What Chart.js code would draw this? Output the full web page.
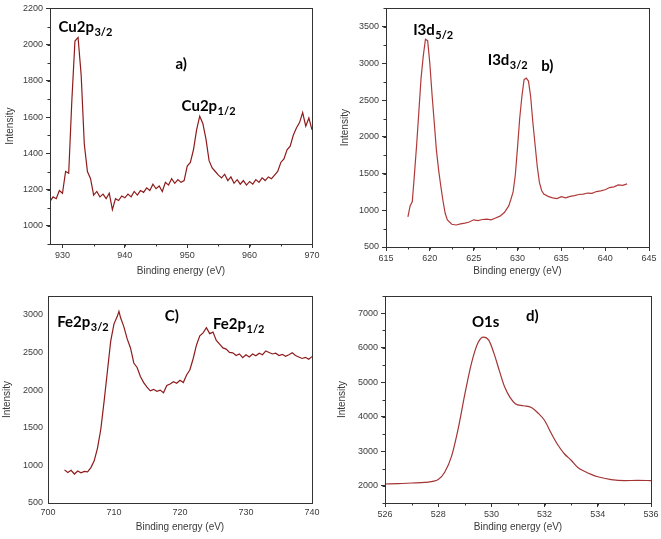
<!DOCTYPE html>
<html>
<head>
<meta charset="utf-8">
<script src="https://cdn.jsdelivr.net/npm/chart.js@4.4.1/dist/chart.umd.min.js"></script>
<style>
  body { margin: 0; background: #fff; }
  #wrap { position: relative; width: 661px; height: 539px; overflow: hidden; background: #fff; }
  canvas { position: absolute; }
</style>
</head>
<body>
<div id="wrap">
  <canvas id="cuChart" width="330" height="285" style="left:0;top:0"></canvas>
  <canvas id="iChart" width="331" height="285" style="left:330px;top:0"></canvas>
  <canvas id="feChart" width="330" height="269" style="left:0;top:270px"></canvas>
  <canvas id="oChart" width="331" height="269" style="left:330px;top:270px"></canvas>
</div>
<script>
// a) Cu 2p
const cuEnergy = [928.0, 928.5, 929.0, 929.5, 930.0, 930.5, 931.0, 931.5, 932.0, 932.5,
  933.0, 933.5, 934.0, 934.5, 935.0, 935.5, 936.0, 936.5, 937.0, 937.5,
  938.0, 938.5, 939.0, 939.5, 940.0, 940.5, 941.0, 941.5, 942.0, 942.5,
  943.0, 943.5, 944.0, 944.5, 945.0, 945.5, 946.0, 946.5, 947.0, 947.5,
  948.0, 948.5, 949.0, 949.5, 950.0, 950.5, 951.0, 951.5, 952.0, 952.5,
  953.0, 953.5, 954.0, 954.5, 955.0, 955.5, 956.0, 956.5, 957.0, 957.5,
  958.0, 958.5, 959.0, 959.5, 960.0, 960.5, 961.0, 961.5, 962.0, 962.5,
  963.0, 963.5, 964.0, 964.5, 965.0, 965.5, 966.0, 966.5, 967.0, 967.5,
  968.0, 968.5, 969.0, 969.5, 970.0];
const cuIntensity = [1135, 1160, 1150, 1195, 1180, 1300, 1290, 1690, 2020, 2040,
  1830, 1450, 1300, 1260, 1170, 1190, 1160, 1175, 1150, 1180,
  1090, 1150, 1140, 1165, 1155, 1175, 1160, 1190, 1170, 1195,
  1185, 1210, 1195, 1230, 1205, 1220, 1190, 1240, 1225, 1260,
  1235, 1255, 1240, 1250, 1330, 1350, 1420, 1530, 1605, 1565,
  1480, 1360, 1320, 1300, 1280, 1265, 1285, 1250, 1270, 1235,
  1255, 1230, 1250, 1225, 1245, 1230, 1255, 1240, 1265, 1250,
  1270, 1260, 1280, 1300, 1350, 1370, 1420, 1440, 1500, 1540,
  1570, 1625, 1550, 1595, 1530];
const cuXTicks = [930, 940, 950, 960, 970];
const cuYTicks = [1000, 1200, 1400, 1600, 1800, 2000, 2200];

// b) I 3d
const iEnergy = [617.5, 617.75, 618.0, 618.25, 618.5, 618.75, 619.0, 619.25, 619.5, 619.75,
  620.0, 620.25, 620.5, 620.75, 621.0, 621.25, 621.5, 621.75, 622.0, 622.5,
  623.0, 623.5, 624.0, 624.5, 625.0, 625.5, 626.0, 626.5, 627.0, 627.5,
  628.0, 628.5, 629.0, 629.25, 629.5, 629.75, 630.0, 630.25, 630.5, 630.75,
  631.0, 631.25, 631.5, 631.75, 632.0, 632.25, 632.5, 632.75, 633.0, 633.5,
  634.0, 634.5, 635.0, 635.5, 636.0, 636.5, 637.0, 637.5, 638.0, 638.5,
  639.0, 639.5, 640.0, 640.5, 641.0, 641.5, 642.0, 642.5];
const iIntensity = [910, 1060, 1120, 1500, 1900, 2350, 2800, 3100, 3330, 3310,
  3000, 2580, 2200, 1820, 1550, 1330, 1130, 960, 870, 810,
  800, 815, 825, 840, 870, 860, 875, 880, 870, 895,
  920, 970, 1060, 1150, 1250, 1480, 1850, 2250, 2550, 2780,
  2800, 2760, 2550, 2200, 1900, 1600, 1380, 1270, 1220, 1190,
  1170, 1160, 1185, 1170, 1190, 1200, 1215, 1220, 1235, 1230,
  1255, 1265, 1280, 1310, 1320, 1345, 1340, 1360];
const iXTicks = [615, 620, 625, 630, 635, 640, 645];
const iYTicks = [500, 1000, 1500, 2000, 2500, 3000, 3500];

// c) Fe 2p
const feEnergy = [702.5, 703.0, 703.5, 704.0, 704.5, 705.0, 705.5, 706.0, 706.5, 707.0,
  707.5, 708.0, 708.5, 709.0, 709.5, 710.0, 710.5, 710.75, 711.0, 711.5,
  712.0, 712.5, 713.0, 713.5, 714.0, 714.5, 715.0, 715.5, 716.0, 716.5,
  717.0, 717.5, 718.0, 718.5, 719.0, 719.5, 720.0, 720.5, 721.0, 721.5,
  722.0, 722.5, 723.0, 723.5, 724.0, 724.5, 725.0, 725.5, 726.0, 726.5,
  727.0, 727.5, 728.0, 728.5, 729.0, 729.5, 730.0, 730.5, 731.0, 731.5,
  732.0, 732.5, 733.0, 733.5, 734.0, 734.5, 735.0, 735.5, 736.0, 736.5,
  737.0, 737.5, 738.0, 738.5, 739.0, 739.5, 740.0];
const feIntensity = [940, 905, 935, 885, 925, 900, 920, 915, 970, 1060,
  1230, 1480, 1850, 2250, 2650, 2880, 2980, 3045, 2960, 2840,
  2680, 2560, 2360, 2300, 2180, 2100, 2040, 1990, 2010, 1985,
  2000, 1965, 2060, 2080, 2110, 2090, 2130, 2100, 2200, 2270,
  2420, 2600, 2720, 2760, 2830, 2750, 2770, 2660, 2610, 2560,
  2545, 2500, 2495, 2460, 2480, 2430, 2470, 2440, 2480, 2455,
  2490, 2470, 2520, 2500, 2480, 2490, 2460, 2475, 2450, 2470,
  2495, 2460, 2440, 2420, 2435, 2410, 2445];
const feXTicks = [700, 710, 720, 730, 740];
const feYTicks = [500, 1000, 1500, 2000, 2500, 3000];

// d) O 1s
const oEnergy = [526.0, 526.5, 527.0, 527.5, 528.0, 528.25, 528.5, 528.75, 529.0, 529.25,
  529.5, 529.7, 529.9, 530.1, 530.3, 530.5, 530.7, 530.9, 531.2, 531.5,
  531.75, 532.0, 532.25, 532.5, 532.75, 533.0, 533.25, 533.5, 533.75, 534.0,
  534.5, 535.0, 535.5, 536.0];
const oIntensity = [2050, 2060, 2080, 2100, 2180, 2400, 2850, 3650, 4650, 5550,
  6150, 6310, 6220, 5830, 5330, 4860, 4560, 4380, 4320, 4270,
  4110, 3890, 3520, 3180, 2920, 2740, 2530, 2420, 2330, 2260,
  2180, 2150, 2155, 2150];
const oXTicks = [526, 528, 530, 532, 534, 536];
const oYTicks = [2000, 3000, 4000, 5000, 6000, 7000];

const axisColor = '#333';
const tickFont = { family: "'Liberation Sans', Arial, sans-serif", size: 9 };
const titleFont = { family: "'Liberation Sans', Arial, sans-serif", size: 10 };
const labelFamily = "Lato, 'Open Sans', sans-serif";

// box round the plot area + small minor ticks
const framePlugin = {
  id: 'frame',
  afterDraw(chart, args, opts) {
    const { ctx, chartArea: a, scales: { x, y } } = chart;
    ctx.save();
    ctx.strokeStyle = axisColor;
    ctx.lineWidth = 1;
    ctx.strokeRect(Math.round(a.left) + 0.5, Math.round(a.top) + 0.5,
      Math.round(a.width), Math.round(a.height));
    ctx.beginPath();
    if (opts.minorX) {
      for (let v = Math.ceil(x.min / opts.minorX) * opts.minorX; v <= x.max + 1e-9; v += opts.minorX) {
        const px = Math.round(x.getPixelForValue(v)) + 0.5;
        ctx.moveTo(px, a.bottom); ctx.lineTo(px, a.bottom + 2.5);
      }
    }
    if (opts.minorY) {
      for (let v = Math.ceil(y.min / opts.minorY) * opts.minorY; v <= y.max + 1e-9; v += opts.minorY) {
        const py = Math.round(y.getPixelForValue(v)) + 0.5;
        ctx.moveTo(a.left, py); ctx.lineTo(a.left - 2.5, py);
      }
    }
    ctx.stroke();
    ctx.restore();
  }
};

// peak names with subscripts, anchored in data units
const peakLabelPlugin = {
  id: 'peakLabels',
  afterDatasetsDraw(chart, args, opts) {
    const { ctx, scales: { x, y } } = chart;
    ctx.save();
    ctx.fillStyle = '#000';
    ctx.textBaseline = 'alphabetic';
    (opts.items || []).forEach(it => {
      let px = x.getPixelForValue(it.x);
      const py = y.getPixelForValue(it.y);
      ctx.font = 'bold 15px ' + labelFamily;
      ctx.fillText(it.text, px, py);
      px += ctx.measureText(it.text).width;
      if (it.sub) {
        ctx.font = 'bold 11px ' + labelFamily;
        ctx.fillText(it.sub, px + 0.5, py + 4);
      }
    });
    ctx.restore();
  }
};

function xpsChart(id, xs, ys, p) {
  const canvas = document.getElementById(id);
  const W = canvas.width, H = canvas.height;
  return new Chart(canvas, {
    type: 'line',
    data: {
      datasets: [{
        data: xs.map((v, i) => ({ x: v, y: ys[i] })),
        borderColor: p.color,
        borderWidth: 1.2,
        pointRadius: 0,
        tension: p.smooth ? 0.4 : 0,
        cubicInterpolationMode: p.smooth ? 'monotone' : 'default',
        fill: false
      }]
    },
    options: {
      responsive: false,
      animation: false,
      layout: { padding: { top: p.area.top, right: W - p.area.right, left: 0, bottom: 0 } },
      plugins: {
        legend: { display: false },
        tooltip: { enabled: false },
        frame: { minorX: p.minorX, minorY: p.minorY },
        peakLabels: { items: p.labels }
      },
      scales: {
        x: {
          type: 'linear',
          min: p.xMin, max: p.xMax,
          afterBuildTicks: s => { s.ticks = p.xTicks.map(v => ({ value: v })); },
          afterFit: s => { s.height = H - p.area.bottom; },
          grid: { drawOnChartArea: false, drawTicks: p.tickMarks, tickLength: 4, color: axisColor },
          border: { display: true, color: axisColor, width: 1 },
          ticks: { color: '#3a3a3a', font: tickFont, padding: p.tickMarks ? 2 : 4, maxRotation: 0,
            callback: v => String(v) },
          title: { display: true, text: 'Binding energy (eV)', color: '#3a3a3a', font: titleFont,
            padding: { top: 0, bottom: p.xTitlePad } }
        },
        y: {
          min: p.yMin, max: p.yMax,
          afterBuildTicks: s => { s.ticks = p.yTicks.map(v => ({ value: v })); },
          afterFit: s => { s.width = p.area.left; },
          grid: { drawOnChartArea: false, drawTicks: p.tickMarks, tickLength: 4, color: axisColor },
          border: { display: true, color: axisColor, width: 1 },
          ticks: { color: '#3a3a3a', font: tickFont, padding: p.tickMarks ? 3 : 5,
            callback: v => String(v) },
          title: { display: true, text: 'Intensity', color: '#3a3a3a', font: titleFont,
            padding: { top: p.yTitlePad, bottom: 0 } }
        }
      }
    },
    plugins: [framePlugin, peakLabelPlugin]
  });
}

xpsChart('cuChart', cuEnergy, cuIntensity, {
  color: '#8e1b1b', area: { left: 50, right: 312, top: 6, bottom: 244 },
  xMin: 928, xMax: 970, yMin: 900, yMax: 2200, xTicks: cuXTicks, yTicks: cuYTicks,
  minorX: 5, minorY: 100, tickMarks: true, xTitlePad: 8, yTitlePad: 4,
  labels: [
    { text: 'Cu2p', sub: '3/2', x: 929.35, y: 2069 },
    { text: 'a)', x: 948.1, y: 1868 },
    { text: 'Cu2p', sub: '1/2', x: 949.1, y: 1633 }
  ]
});

xpsChart('iChart', iEnergy, iIntensity, {
  color: '#b03a3a', area: { left: 56, right: 319, top: 7, bottom: 247 },
  xMin: 615, xMax: 645, yMin: 500, yMax: 3750, xTicks: iXTicks, yTicks: iYTicks,
  minorX: 2.5, minorY: 250, tickMarks: true, xTitlePad: 8, yTitlePad: 9,
  labels: [
    { text: 'I3d', sub: '5/2', x: 618.1, y: 3392 },
    { text: 'I3d', sub: '3/2', x: 626.6, y: 2973 },
    { text: 'b)', x: 632.7, y: 2892 }
  ]
});

xpsChart('feChart', feEnergy, feIntensity, {
  color: '#8e1b1b', area: { left: 48, right: 312, top: 26, bottom: 233 },
  xMin: 700, xMax: 740, yMin: 500, yMax: 3250, xTicks: feXTicks, yTicks: feYTicks,
  minorX: 0, minorY: 0, tickMarks: false, xTitlePad: 6, yTitlePad: 1,
  labels: [
    { text: 'Fe2p', sub: '3/2', x: 701.4, y: 2838 },
    { text: 'C)', x: 717.7, y: 2918 },
    { text: 'Fe2p', sub: '1/2', x: 725.0, y: 2811 }
  ]
});

xpsChart('oChart', oEnergy, oIntensity, {
  color: '#a33434', smooth: true, area: { left: 55, right: 321, top: 26, bottom: 233 },
  xMin: 526, xMax: 536, yMin: 1500, yMax: 7500, xTicks: oXTicks, yTicks: oYTicks,
  minorX: 1, minorY: 500, tickMarks: true, xTitlePad: 6, yTitlePad: 6,
  labels: [
    { text: 'O1s', x: 529.27, y: 6604 },
    { text: 'd)', x: 531.3, y: 6777 }
  ]
});
</script>
</body>
</html>
